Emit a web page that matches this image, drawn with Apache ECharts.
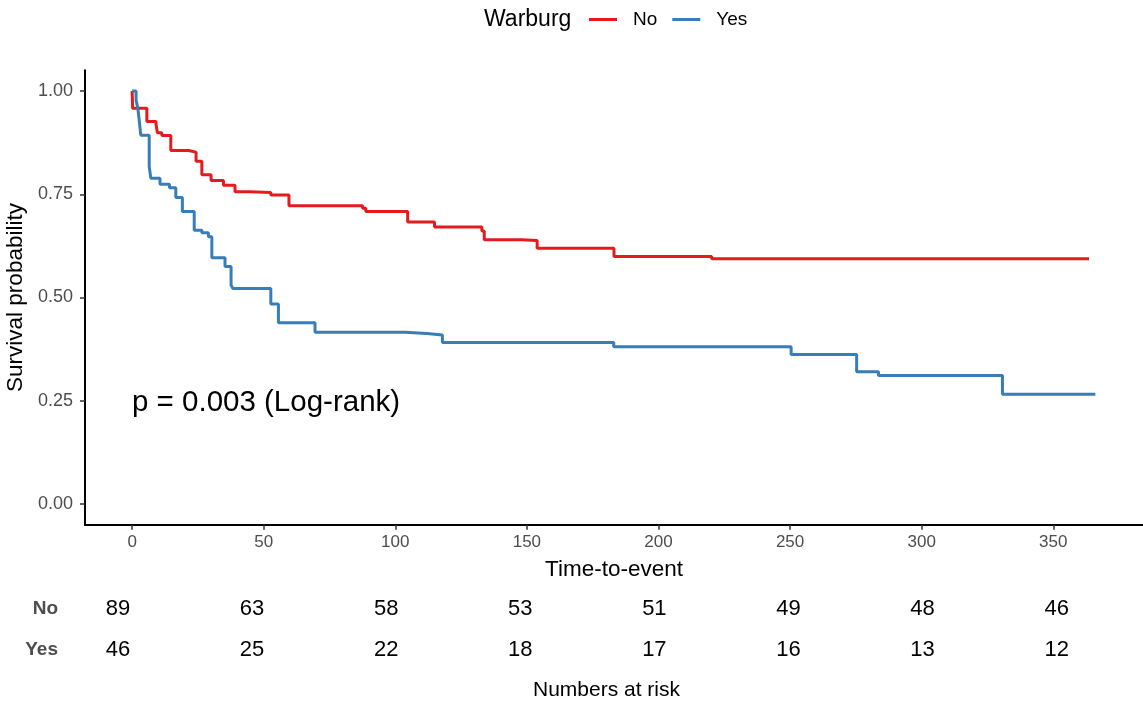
<!DOCTYPE html>
<html>
<head>
<meta charset="utf-8">
<script src="https://cdn.jsdelivr.net/npm/echarts@6/dist/echarts.min.js"></script>
<style>
html,body{margin:0;padding:0;background:#fff;}
#chart{width:1143px;height:703px;}
</style>
</head>
<body>
<div id="chart"></div>
<script>
// Kaplan-Meier step data
const noTimes = [0, 0.2, 5.6, 9.1, 9.6, 11.3, 14.7, 21.4, 24.3, 26.5, 30, 34.7, 39.1, 44.5, 52.7, 59.6, 87.6, 88.8, 104.7, 114.9, 132.9, 133.8, 148, 153.9, 183.1, 220.2, 363.6];
const noSurv  = [1.0, 0.958, 0.926, 0.919, 0.899, 0.892, 0.856, 0.852, 0.830, 0.797, 0.783, 0.772, 0.756, 0.754, 0.748, 0.722, 0.716, 0.708, 0.683, 0.671, 0.661, 0.640, 0.638, 0.619, 0.599, 0.594, 0.594];
const yesTimes = [0, 1.5, 2.2, 2.6, 3.3, 6.5, 7.1, 10.6, 14.2, 16.6, 19.1, 23.6, 26.5, 29, 30.3, 35.3, 37.6, 38.3, 52.7, 55.6, 69.5, 103.7, 112, 117.9, 183, 250.4, 275.3, 283.6, 330.7, 366];
const yesSurv  = [1.0, 0.978, 0.957, 0.935, 0.893, 0.817, 0.789, 0.774, 0.766, 0.742, 0.708, 0.663, 0.657, 0.647, 0.596, 0.575, 0.530, 0.522, 0.484, 0.439, 0.416, 0.413, 0.409, 0.391, 0.381, 0.362, 0.320, 0.311, 0.266, 0.266];

const xTicks = [0, 50, 100, 150, 200, 250, 300, 350];
const yTicks = [0, 0.25, 0.5, 0.75, 1];
const groups = ['No', 'Yes'];
const riskNo  = [89, 63, 58, 53, 51, 49, 48, 46];
const riskYes = [46, 25, 22, 18, 17, 16, 13, 12];

const RED = '#E41A1C', BLUE = '#377EB8';
const FONT = 'Liberation Sans, Arial, sans-serif';

const zip = (a, b) => a.map((v, i) => [v, b[i]]);
const riskData = [];
xTicks.forEach((t, i) => {
  riskData.push([t, 'No', riskNo[i]]);
  riskData.push([t, 'Yes', riskYes[i]]);
});

const chart = echarts.init(document.getElementById('chart'), null, {renderer: 'canvas'});
chart.setOption({
  animation: false,
  backgroundColor: '#fff',
  textStyle: {fontFamily: FONT},
  legend: {
    data: ['No', 'Yes'],
    left: 584, top: 5,
    icon: 'rect',
    itemWidth: 28, itemHeight: 3,
    itemGap: 15,
    textStyle: {fontSize: 19, color: '#000', fontFamily: FONT, padding: [0, 0, 0, 11]}
  },
  graphic: [
    {type: 'text', left: 484, top: 8, style: {text: 'Warburg', fontSize: 23, fill: '#000', fontFamily: FONT}},
    {type: 'text', left: 132, top: 388, style: {text: 'p = 0.003 (Log-rank)', fontSize: 29.5, fill: '#000', fontFamily: FONT}},
    {type: 'text', left: 533, top: 680, style: {text: 'Numbers at risk', fontSize: 21, fill: '#000', fontFamily: FONT}}
  ],
  grid: [
    {left: 85, right: 0, top: 70.35, bottom: 178.35, outerBoundsMode: 'none', containLabel: false},
    {left: 70, right: 0, top: 588.5, bottom: 32.5, outerBoundsMode: 'none', containLabel: false}
  ],
  xAxis: [
    {
      type: 'value', gridIndex: 0, min: -17.9, max: 384.1,
      name: 'Time-to-event', nameLocation: 'middle', nameGap: 34,
      nameTextStyle: {fontSize: 22.5, color: '#000', fontFamily: FONT},
      splitLine: {show: false},
      axisLine: {show: true, onZero: false, lineStyle: {color: '#000', width: 2}},
      axisTick: {show: true, length: 5, customValues: xTicks, lineStyle: {color: '#333', width: 1.5}},
      axisLabel: {customValues: xTicks, fontSize: 17, color: '#4d4d4d', margin: 9, fontFamily: FONT}
    },
    {
      type: 'value', gridIndex: 1, min: -17.9, max: 382.2,
      show: false, splitLine: {show: false}
    }
  ],
  yAxis: [
    {
      type: 'value', gridIndex: 0, min: -0.05, max: 1.05,
      name: 'Survival probability', nameLocation: 'middle', nameGap: 48, nameRotate: 90,
      nameTextStyle: {fontSize: 22.5, color: '#000', fontFamily: FONT},
      splitLine: {show: false},
      axisLine: {show: true, onZero: false, lineStyle: {color: '#000', width: 2}},
      axisTick: {show: true, length: 5, customValues: yTicks, lineStyle: {color: '#333', width: 1.5}},
      axisLabel: {customValues: yTicks, fontSize: 18, color: '#4d4d4d', margin: 12, fontFamily: FONT,
        formatter: v => v.toFixed(2)}
    },
    {
      type: 'category', gridIndex: 1, data: groups, inverse: true,
      axisLine: {show: false}, axisTick: {show: false}, splitLine: {show: false},
      axisLabel: {fontSize: 19, fontWeight: 'bold', color: '#4d4d4d', margin: 12, fontFamily: FONT}
    }
  ],
  series: [
    {
      name: 'No', type: 'line', step: 'end', xAxisIndex: 0, yAxisIndex: 0,
      data: zip(noTimes, noSurv), showSymbol: false, symbol: 'none',
      lineStyle: {color: RED, width: 3}, itemStyle: {color: RED}
    },
    {
      name: 'Yes', type: 'line', step: 'end', xAxisIndex: 0, yAxisIndex: 0,
      data: zip(yesTimes, yesSurv), showSymbol: false, symbol: 'none',
      lineStyle: {color: BLUE, width: 3}, itemStyle: {color: BLUE}
    },
    {
      name: 'risk', type: 'scatter', xAxisIndex: 1, yAxisIndex: 1,
      data: riskData, symbolSize: 0,
      itemStyle: {opacity: 1, color: '#000'},
      label: {show: true, position: 'inside', formatter: p => String(p.value[2]),
        fontSize: 22, color: '#000', opacity: 1, fontFamily: FONT},
      silent: true
    }
  ]
});
</script>
</body>
</html>
